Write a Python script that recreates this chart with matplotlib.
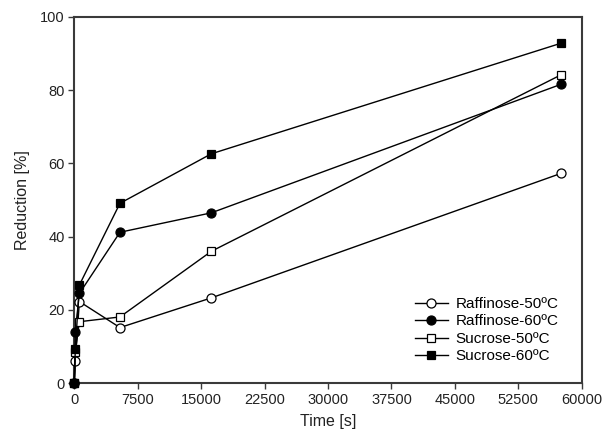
import numpy as np
import matplotlib
matplotlib.use("Agg")
import matplotlib.pyplot as plt

plt.rcParams["font.family"] = ["Liberation Sans", "DejaVu Sans"]

# ---------------- data ----------------
time_s = [0, 120, 600, 5400, 16200, 57600]

raffinose_50 = [0, 6.2, 22.3, 15.2, 23.3, 57.3]
raffinose_60 = [0, 14.1, 24.5, 41.2, 46.5, 81.6]
sucrose_50 = [0, 8.5, 16.8, 18.1, 36.0, 84.2]
sucrose_60 = [0, 9.3, 26.8, 49.1, 62.6, 92.8]

labels = ["Raffinose-50ºC", "Raffinose-60ºC", "Sucrose-50ºC", "Sucrose-60ºC"]

x_ticks = np.arange(0, 60001, 7500)
y_ticks = np.arange(0, 101, 20)

# ---------------- figure ----------------
fig = plt.figure(figsize=(6.03, 4.42), dpi=100)
ax = fig.add_axes([0.1232, 0.1328, 0.8415, 0.8294])

series = [
    (raffinose_50, "o", "white"),
    (raffinose_60, "o", "black"),
    (sucrose_50, "s", "white"),
    (sucrose_60, "s", "black"),
]

for (vals, mk, fc), lab in zip(series, labels):
    ax.plot(time_s, vals, color="black", linewidth=1.0,
            marker=mk, markersize=6.5 if mk == "o" else 6,
            markerfacecolor=fc, markeredgecolor="black",
            markeredgewidth=0.9, label=lab, clip_on=False, zorder=3)

ax.set_xlim(0, 60000)
ax.set_ylim(0, 100)
ax.set_xticks(x_ticks)
ax.set_yticks(y_ticks)
ax.set_xticklabels([str(v) for v in x_ticks])

for sp in ax.spines.values():
    sp.set_color("#3a3a3a")
    sp.set_linewidth(1.5)

ax.tick_params(direction="out", length=4, width=1.0, colors="#3a3a3a",
               labelsize=10.5, labelcolor="#222222", pad=3)

ax.set_xlabel("Time [s]", fontsize=11.5, color="#222222", labelpad=5)
ax.set_ylabel("Reduction [%]", fontsize=11.5, color="#222222", labelpad=7)

ax.legend(loc="center left", bbox_to_anchor=(0.671, 0.145),
          frameon=False, fontsize=11, handlelength=2.15,
          handletextpad=0.5, labelspacing=0.23,
          borderaxespad=0, borderpad=0)

fig.savefig("out.png", dpi=100)
